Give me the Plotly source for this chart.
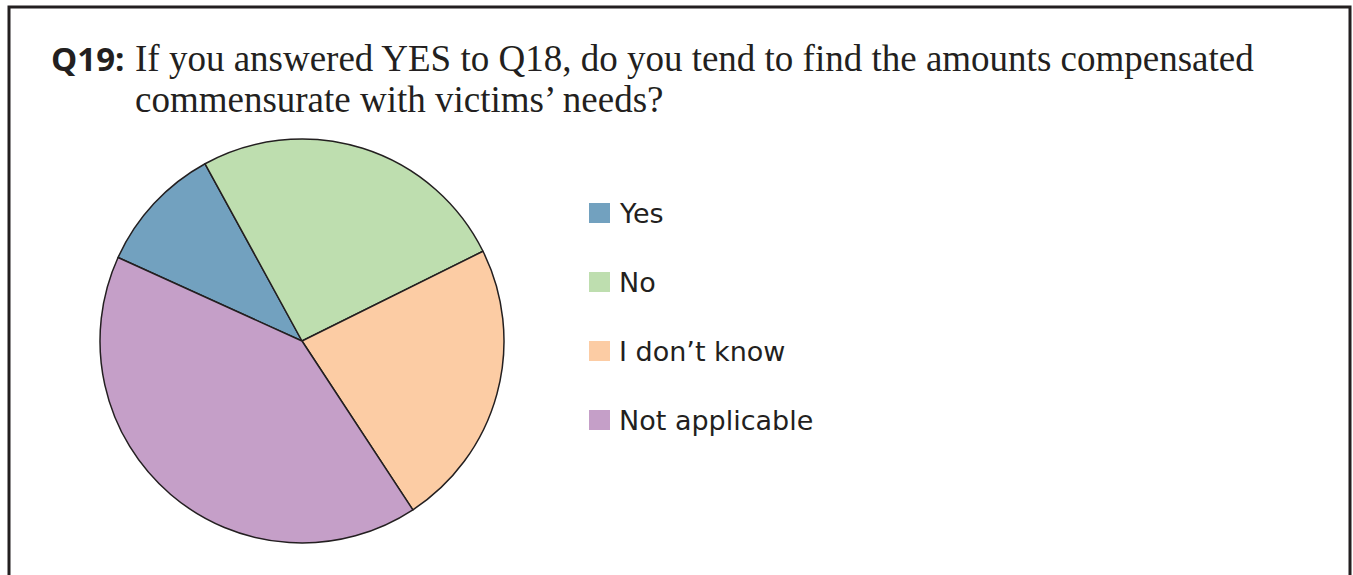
import plotly.graph_objects as go

# Survey responses to Q19
categories = ["Yes", "No", "I don\u2019t know", "Not applicable"]
counts = [4, 10, 9, 16]
colors = ["#72A1BF", "#BEDEAF", "#FCCCA4", "#C59FC8"]

W, H = 1353, 575
INK = "#231F20"


def px(x):
    return x / W


def py(y):
    return 1 - y / H


fig = go.Figure()

fig.add_trace(go.Pie(
    labels=categories,
    values=counts,
    marker=dict(colors=colors, line=dict(color=INK, width=1.5)),
    sort=False,
    direction="clockwise",
    rotation=-65.6,
    textinfo="none",
    hoverinfo="label+value+percent",
    showlegend=False,
    domain=dict(x=[px(99), px(505)], y=[py(543), py(139)]),
))

shapes = [
    # outer frame
    dict(type="rect", xref="paper", yref="paper",
         x0=px(9), x1=px(1350), y0=py(600), y1=py(7),
         line=dict(color=INK, width=3), fillcolor="rgba(0,0,0,0)"),
]
annotations = [
    dict(text="<b>Q19:</b>", x=px(49), y=py(58), xref="paper", yref="paper",
         xanchor="left", yanchor="middle", showarrow=False,
         font=dict(family="Open Sans", size=33, color=INK)),
    dict(text="If you answered YES to Q18, do you tend to find the amounts compensated",
         x=px(133), y=py(59), xref="paper", yref="paper",
         xanchor="left", yanchor="middle", showarrow=False,
         font=dict(family="Liberation Serif", size=37, color=INK)),
    dict(text="commensurate with victims\u2019 needs?",
         x=px(133), y=py(99), xref="paper", yref="paper",
         xanchor="left", yanchor="middle", showarrow=False,
         font=dict(family="Liberation Serif", size=37, color=INK)),
]

# legend drawn as swatches with labels
legend_y = [213, 282, 351, 420]
for name, col, yc in zip(categories, colors, legend_y):
    shapes.append(dict(type="rect", xref="paper", yref="paper",
                       x0=px(589), x1=px(610), y0=py(yc + 10), y1=py(yc - 10),
                       line=dict(width=0), fillcolor=col))
    annotations.append(dict(text=name, x=px(617), y=py(yc), xref="paper", yref="paper",
                            xanchor="left", yanchor="middle", showarrow=False,
                            font=dict(family="DejaVu Sans", size=27, color=INK)))

fig.update_layout(
    width=W, height=H,
    margin=dict(l=0, r=0, t=0, b=0),
    paper_bgcolor="white",
    plot_bgcolor="white",
    shapes=shapes,
    annotations=annotations,
)

fig.write_html("out.html")
